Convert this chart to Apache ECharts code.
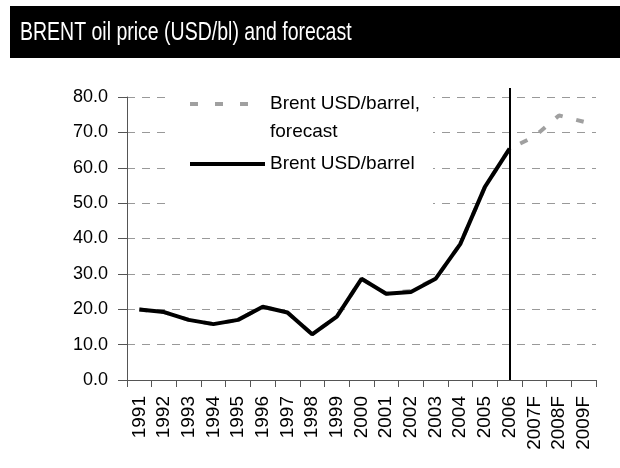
<!DOCTYPE html>
<html>
<head>
<meta charset="utf-8">
<script src="https://cdn.jsdelivr.net/npm/echarts@6/dist/echarts.min.js"></script>
<style>
html,body{margin:0;padding:0;background:#fff;}
#chart{width:620px;height:468px;}
</style>
</head>
<body>
<div id="chart"></div>
<script>
var years = ['1991','1992','1993','1994','1995','1996','1997','1998','1999','2000','2001','2002','2003','2004','2005','2006','2007F','2008F','2009F'];
var brentActual = [19.9,19.2,17.0,15.8,17.0,20.7,19.1,12.9,17.9,28.6,24.4,24.9,28.6,38.4,54.6,65.4,null,null,null];
var brentForecast = [19.9,19.2,17.0,15.8,17.0,20.7,19.1,12.9,17.9,28.6,24.4,25.2,28.6,38.4,54.6,65.4,68.8,74.8,73.0];
var dividerYear = ['2006'];
var dividerTop = [82.5];
var titleText = 'BRENT oil price (USD/bl) and forecast';

var ARIAL = "'Liberation Sans',Arial,sans-serif";

var chart = echarts.init(document.getElementById('chart'), null, {renderer:'canvas'});
chart.setOption({
  animation:false,
  backgroundColor:'#fff',
  graphic:[
    {type:'rect', left:10, top:6, z:1, shape:{width:610,height:52}, style:{fill:'#000'}},
    {type:'text', x:20, y:33, z:2, scaleX:0.78,
      style:{text:titleText, fill:'#fff', font:"25px 'Liberation Sans', Arial, sans-serif", verticalAlign:'middle', align:'left'}},
    {type:'rect', left:167, top:85, z:5, shape:{width:266,height:128}, style:{fill:'#fff'}}
  ],
  legend:[
    {
      left:188, top:62, padding:0, orient:'vertical', z:10,
      itemWidth:75, itemHeight:14,
      itemStyle:{opacity:0},
      data:[{name:'Brent USD/barrel, forecast', itemStyle:{opacity:0}, lineStyle:{type:[8,17], width:4, color:'#a0a0a0'}}],
      formatter:function(){return '\nBrent USD/barrel,\nforecast';},
      textStyle:{fontFamily:ARIAL, fontSize:19, lineHeight:28, color:'#000'}
    },
    {
      left:188, top:150, padding:0, orient:'vertical', z:10,
      itemWidth:75, itemHeight:14,
      itemStyle:{opacity:0},
      data:[{name:'Brent USD/barrel', itemStyle:{opacity:0}, lineStyle:{width:4, color:'#000'}}],
      textStyle:{fontFamily:ARIAL, fontSize:19, lineHeight:28, color:'#000'}
    }
  ],
  grid:[
    {left:127, right:24, top:97, bottom:88},
    {left:127, right:24, top:88, bottom:88}
  ],
  xAxis:[
    {
      type:'category', data:years, gridIndex:0, boundaryGap:true,
      axisLine:{lineStyle:{color:'#555', width:1}},
      axisTick:{show:true, length:7, interval:0, lineStyle:{color:'#555'}},
      axisLabel:{interval:0, rotate:90, margin:16, fontFamily:ARIAL, fontSize:19, color:'#000'},
      splitLine:{show:false}
    },
    {type:'category', data:years, gridIndex:1, boundaryGap:true, show:false}
  ],
  yAxis:[
    {
      type:'value', gridIndex:0, min:0, max:80, interval:10,
      axisLine:{show:true, lineStyle:{color:'#555', width:1}},
      axisTick:{show:true, length:9, lineStyle:{color:'#555'}},
      axisLabel:{margin:19, fontFamily:ARIAL, fontSize:18, color:'#000',
        formatter:function(v){return v.toFixed(1);}},
      splitLine:{show:true, lineStyle:{color:'#999', width:1, type:[8,7]}}
    },
    {type:'value', gridIndex:1, min:0, max:dividerTop[0], show:false}
  ],
  series:[
    {
      name:'Brent USD/barrel, forecast', type:'line', data:brentForecast,
      xAxisIndex:0, yAxisIndex:0, symbol:'none', showSymbol:false, z:2,
      lineStyle:{color:'#a0a0a0', width:4, type:[8,14]},
      itemStyle:{color:'#a0a0a0'}
    },
    {
      name:'Brent USD/barrel', type:'line', data:brentActual,
      xAxisIndex:0, yAxisIndex:0, symbol:'none', showSymbol:false, z:3,
      lineStyle:{color:'#000', width:4},
      itemStyle:{color:'#000'}
    },
    {
      name:'divider', type:'line', data:years.map(function(){return null;}),
      xAxisIndex:1, yAxisIndex:1, symbol:'none', silent:true, z:4,
      lineStyle:{opacity:0},
      markLine:{
        silent:true, symbol:'none', animation:false,
        label:{show:false},
        lineStyle:{color:'#000', width:2, type:'solid'},
        data:dividerYear.map(function(y){return {xAxis:y};})
      }
    }
  ]
});
</script>
</body>
</html>
